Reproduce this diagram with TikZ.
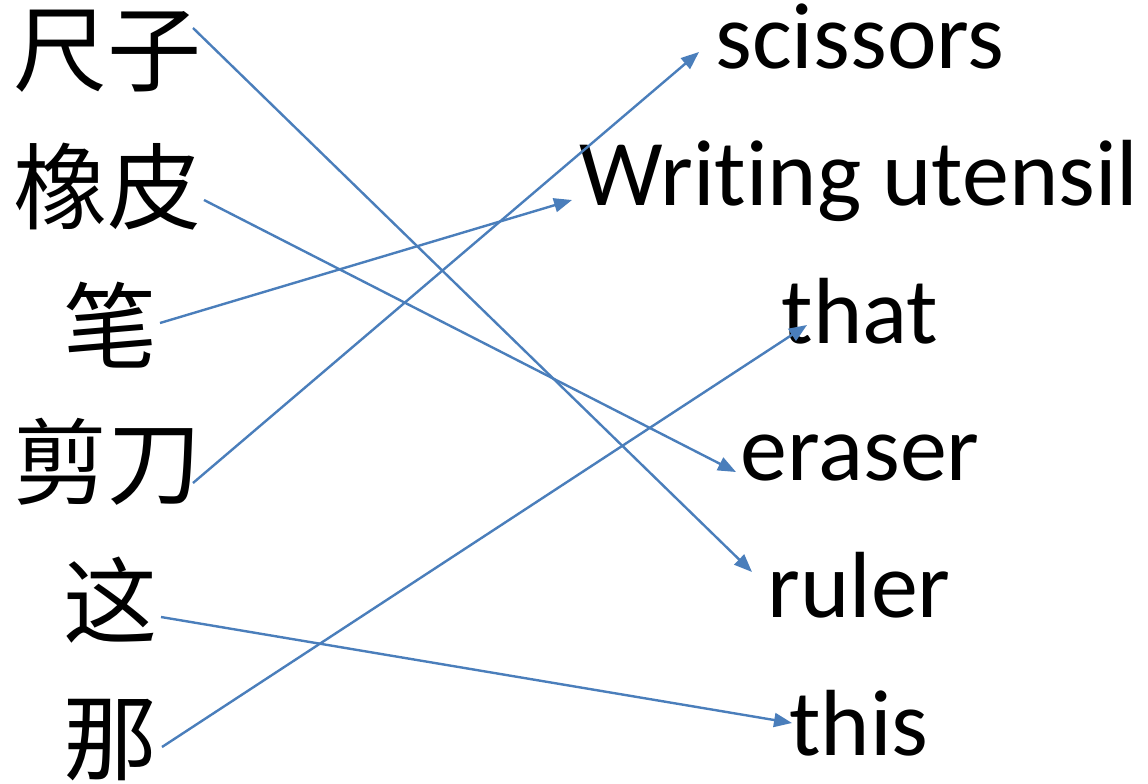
\documentclass[tikz,border=0pt]{standalone}
\usepackage{fontspec}
\setmainfont{Carlito}[Ligatures={NoCommon}]
\newfontfamily\cjk{Noto Sans CJK SC}
\usetikzlibrary{arrows.meta}
\definecolor{lineblue}{HTML}{4A7EBB}
\begin{document}
\begin{tikzpicture}[x=1pt,y=-1pt,
  zh/.style={inner sep=0pt, font=\cjk\fontsize{94}{94}\selectfont},
  en/.style={inner sep=0pt, anchor=base, text height=62pt, text depth=18pt, font=\fontsize{94}{94}\selectfont},
  link/.style={draw=lineblue, line width=2.4pt, -{Triangle[length=18pt,width=14pt]}}]
\useasboundingbox (0,0) rectangle (1148,784);
\fill[white] (0,0) rectangle (1148,784);
% left column
\node[zh] (z1) at (107,51) {尺子};
\node[zh] (z2) at (107,187) {橡皮};
\node[zh] (z3) at (110,325) {笔};
\node[zh] (z4) at (107,462) {剪刀};
\node[zh] (z5) at (110,600) {这};
\node[zh] (z6) at (110,740) {那};
% right column
\node[en] (e1) at (860,68) {scissors};
\node[en] (e2) at (859,205) {Writ\kern0pt ing utensil};
\node[en] (e3) at (860,343) {that};
\node[en] (e4) at (860,480) {eraser};
\node[en] (e5) at (859,617) {ruler};
\node[en] (e6) at (859,755) {this};
% links
\draw[link] ([shift={(86,-23)}]z1.center) -- ([shift={(-107,-45)}]e5.base);
\draw[link] ([shift={(97,13)}]z2.center) -- ([shift={(-124,-8)}]e4.base);
\draw[link] ([shift={(50,-2)}]z3.center) -- ([shift={(-287,-5)}]e2.base);
\draw[link] ([shift={(86,21)}]z4.center) -- ([shift={(-161,-16)}]e1.base);
\draw[link] ([shift={(51,17)}]z5.center) -- ([shift={(-67,-32)}]e6.base);
\draw[link] ([shift={(52,7)}]z6.center) -- ([shift={(-53,-18)}]e3.base);
\end{tikzpicture}
\end{document}
